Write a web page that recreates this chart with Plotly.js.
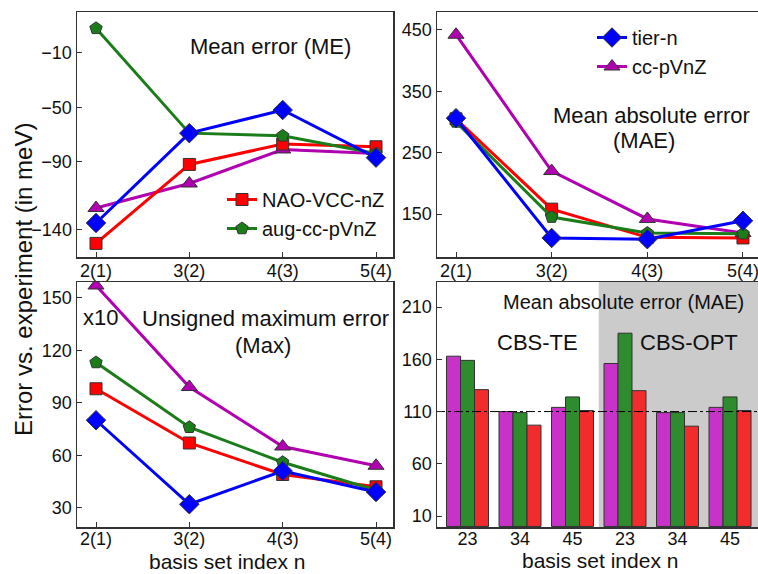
<!DOCTYPE html>
<html>
<head>
<meta charset="utf-8">
<script src="https://cdn.plot.ly/plotly-3.0.1.min.js"></script>
<style>html,body{margin:0;padding:0;background:#fff;}#chart{width:758px;height:574px;}</style>
</head>
<body>
<div id="chart"></div>
<script>
// ---- data ----
const basisLabels = ['2(1)', '3(2)', '4(3)', '5(4)'];

// Mean error (ME)
const meNAO  = [-150, -92, -77, -79];
const meAug  = [8, -69, -71, -84];
const meTier = [-135, -69, -52, -87];
const meCc   = [-124, -106, -81, -84];

// Mean absolute error (MAE)
const maeNAO  = [305, 158, 112, 111];
const maeAug  = [300, 145, 119, 118];
const maeTier = [306, 111, 109, 139];
const maeCc   = [442, 220, 142, 119];

// Unsigned maximum error (x10)
const maxNAO  = [98, 67, 49, 42];
const maxAug  = [113, 76, 56, 40];
const maxTier = [80, 32, 51, 39];
const maxCc   = [157, 99, 65, 54];

// CBS extrapolation MAE bars (CBS-TE: first three, CBS-OPT: last three)
const cbsLabels = ['23', '34', '45', '23', '34', '45'];
const cbsCc  = [163, 110, 114, 156, 109, 114];
const cbsAug = [159, 109, 124, 185, 109, 124];
const cbsNAO = [131, 97, 111, 130, 96, 111];
const cbsRefLine = 110;

// ---- styles ----
const FONT = 'Liberation Sans, Arial, Helvetica, sans-serif';
const C = {
  nao: '#ff0000', aug: '#1a7d1a', tier: '#0000ff', cc: '#b000b0',
  barCc: '#c832c8', barAug: '#2e8b2e', barNao: '#f22c2c'
};
const series = [
  {name: 'NAO-VCC-nZ', color: C.nao, symbol: 'square', size: 12, legend: 'legend', data: [meNAO, maeNAO, maxNAO]},
  {name: 'aug-cc-pVnZ', color: C.aug, symbol: 'pentagon', size: 13, legend: 'legend', data: [meAug, maeAug, maxAug]},
  {name: 'cc-pVnZ', color: C.cc, symbol: 'triangle-up', size: 14, legend: 'legend2', data: [meCc, maeCc, maxCc]},
  {name: 'tier-n', color: C.tier, symbol: 'diamond', size: 15, legend: 'legend2', data: [meTier, maeTier, maxTier]}
];
const axPairs = [['x', 'y'], ['x2', 'y2'], ['x3', 'y3']];
const traces = [];
const drawOrder = [2, 0, 1, 3];
drawOrder.forEach(si => {
  const s = series[si];
  axPairs.forEach((ax, pi) => {
    const showLeg = (s.legend === 'legend' && pi === 0) || (s.legend === 'legend2' && pi === 1);
    traces.push({
      type: 'scatter', mode: 'lines+markers', name: s.name,
      x: basisLabels, y: s.data[pi], xaxis: ax[0], yaxis: ax[1],
      line: {color: s.color, width: 3},
      marker: {symbol: s.symbol, size: s.size, color: s.color, line: {color: '#333', width: 1}},
      showlegend: showLeg, legend: s.legend
    });
  });
});
const xIdx = cbsLabels.map((_, i) => i);
[[cbsCc, C.barCc], [cbsAug, C.barAug], [cbsNAO, C.barNao]].forEach(([vals, col]) => {
  traces.push({
    type: 'bar', x: xIdx, y: vals, xaxis: 'x4', yaxis: 'y4', showlegend: false,
    marker: {color: col, line: {color: '#333', width: 1}}
  });
});
// reference dash-dot line
traces.push({
  type: 'scatter', mode: 'lines', x: [-0.6, 5.6], y: [cbsRefLine, cbsRefLine],
  xaxis: 'x4', yaxis: 'y4', showlegend: false,
  line: {color: '#000', width: 1, dash: 'dashdot'}
});

const W = 758, H = 574;
const px = v => v / W, py = v => (H - v) / H;
const xL = [px(77), px(393)], xR = [px(437), 1];
const yT = [py(257), py(12)], yB = [py(527), py(282)];

const axBase = {
  showline: true, linecolor: '#333', linewidth: 1.5, ticks: 'inside', ticklen: 5,
  tickcolor: '#333', tickwidth: 1, showgrid: false, zeroline: false,
  tickfont: {family: FONT, size: 18, color: '#111'}
};
const layout = {
  width: W, height: H, margin: {l: 0, r: 0, t: 0, b: 0},
  paper_bgcolor: '#fff', plot_bgcolor: 'rgba(0,0,0,0)',
  font: {family: FONT, color: '#111'},
  bargap: 0.2, bargroupgap: 0, barmode: 'group',
  xaxis: Object.assign({}, axBase, {domain: xL, anchor: 'y', type: 'category', range: [-0.2036, 3.182], mirror: true, ticklabelstandoff: -3}),
  yaxis: Object.assign({}, axBase, {domain: yT, anchor: 'x', range: [-160, 20], tickvals: [-140, -90, -50, -10], mirror: true}),
  xaxis2: Object.assign({}, axBase, {domain: xR, anchor: 'y2', type: 'category', range: [-0.1986, 3.157], mirror: true, ticklabelstandoff: -3}),
  yaxis2: Object.assign({}, axBase, {domain: yT, anchor: 'x2', range: [80, 479], tickvals: [150, 250, 350, 450]}),
  xaxis3: Object.assign({}, axBase, {domain: xL, anchor: 'y3', type: 'category', range: [-0.2036, 3.182], mirror: true, ticklabelstandoff: -5}),
  yaxis3: Object.assign({}, axBase, {domain: yB, anchor: 'x3', range: [19, 159], tickvals: [30, 60, 90, 120, 150], mirror: true}),
  xaxis4: Object.assign({}, axBase, {domain: xR, anchor: 'y4', range: [-0.581, 5.533], tickvals: xIdx, ticktext: cbsLabels, ticks: '', mirror: true, ticklabelstandoff: -5}),
  yaxis4: Object.assign({}, axBase, {domain: yB, anchor: 'x4', range: [-0.5, 234], tickvals: [10, 60, 110, 160, 210]}),
  legend: {x: px(222), y: py(180), xanchor: 'left', yanchor: 'top', bgcolor: 'rgba(0,0,0,0)',
    font: {family: FONT, size: 20, color: '#111'}, tracegroupgap: 0},
  legend2: {x: px(592), y: py(18), xanchor: 'left', yanchor: 'top', bgcolor: 'rgba(0,0,0,0)',
    font: {family: FONT, size: 20, color: '#111'}, traceorder: 'reversed'},
  shapes: [
    {type: 'rect', xref: 'x4', yref: 'y4 domain', x0: 2.5, x1: 6, y0: 0, y1: 1,
     fillcolor: '#cbcbcb', line: {width: 0}, layer: 'below'}
  ],
  annotations: []
};
const ann = (text, x, y, size, extra) => layout.annotations.push(Object.assign({
  text, x: px(x), y: py(y), xref: 'paper', yref: 'paper', showarrow: false,
  xanchor: 'center', yanchor: 'middle', font: {family: FONT, size, color: '#111'}
}, extra || {}));
ann('Mean error (ME)', 270, 46, 22);
ann('Mean absolute error', 651, 115, 22);
ann('(MAE)', 644, 140, 22);
ann('Unsigned maximum error', 265, 318, 22);
ann('(Max)', 263, 345, 22);
ann('x10', 100, 317, 22);
ann('Mean absolute error (MAE)', 623, 302, 20);
ann('CBS-TE', 537, 342, 22);
ann('CBS-OPT', 689, 342, 22);
ann('Error vs. experiment (in meV)', 23, 280, 24, {textangle: -90});
ann('basis set index n', 227, 561, 21);
ann('basis set index n', 600, 560, 21);

Plotly.newPlot('chart', traces, layout, {staticPlot: true, displayModeBar: false});
</script>
</body>
</html>
